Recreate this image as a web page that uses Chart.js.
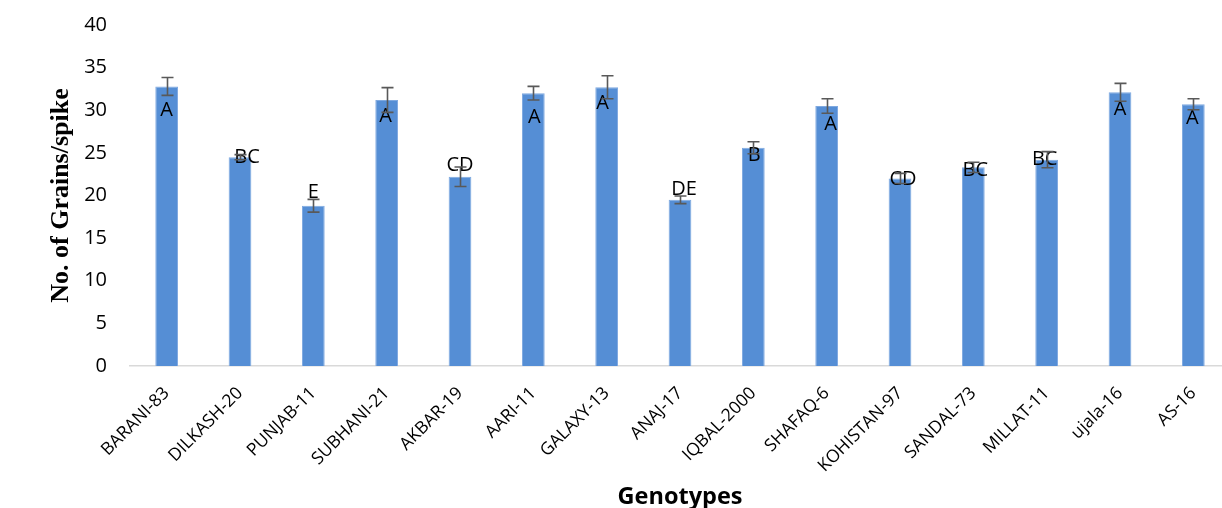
<!DOCTYPE html>
<html>
<head>
<meta charset="utf-8">
<script src="https://cdn.jsdelivr.net/npm/chart.js@4.4.1/dist/chart.umd.min.js"></script>
<style>
  html, body { margin: 0; padding: 0; background: #fff; overflow: hidden; }
  #wrap { width: 1232px; height: 508px; }
</style>
</head>
<body>
<div id="wrap"><canvas id="c" width="1232" height="508"></canvas></div>
<script>
// Genotypes and mean grains per spike
const genotypes = ['BARANI-83', 'DILKASH-20', 'PUNJAB-11', 'SUBHANI-21', 'AKBAR-19', 'AARI-11',
  'GALAXY-13', 'ANAJ-17', 'IQBAL-2000', 'SHAFAQ-6', 'KOHISTAN-97', 'SANDAL-73', 'MILLAT-11',
  'ujala-16', 'AS-16'];
const grainsPerSpike = [32.8, 24.5, 18.8, 31.2, 22.2, 32.0, 32.7, 19.5, 25.6, 30.5, 22.0, 23.3, 24.2, 32.1, 30.7];
// Standard error for each genotype
const stdError = [1.05, 0.3, 0.75, 1.45, 1.15, 0.8, 1.35, 0.45, 0.7, 0.85, 0.6, 0.6, 0.95, 1.05, 0.65];
// Significance groups (LSD letters)
const groupLetters = ['A', 'BC', 'E', 'A', 'CD', 'A', 'A', 'DE', 'B', 'A', 'CD', 'BC', 'BC', 'A', 'A'];
// Y axis ticks
const yMin = 0, yMax = 40, yStep = 5;

// Pixel nudges for the letter labels, relative to the bar top
const letterNudge = [[0, 24], [7, 0], [0, -13], [-1, 16], [0, -11], [1, 24], [-4, 16], [4, -10],
  [1, 8], [4, 18], [3, 1], [2, 3], [-2, 0], [0, 17], [-1, 14]];

const sans = '"Open Sans", "Noto Sans", sans-serif';

const letterPlugin = {
  id: 'letters',
  afterDatasetsDraw(chart) {
    const ctx = chart.ctx;
    const meta = chart.getDatasetMeta(0);
    const y = chart.scales.y;
    ctx.save();
    ctx.font = '20px ' + sans;
    ctx.fillStyle = '#000';
    ctx.textAlign = 'center';
    ctx.textBaseline = 'middle';
    meta.data.forEach((bar, i) => {
      const top = y.getPixelForValue(grainsPerSpike[i]);
      const [dx, dy] = letterNudge[i];
      ctx.fillText(groupLetters[i], bar.x + dx, top + dy);
    });
    ctx.restore();
  }
};

const errorBarPlugin = {
  id: 'errorBars',
  afterDatasetsDraw(chart) {
    const ctx = chart.ctx;
    const meta = chart.getDatasetMeta(0);
    const y = chart.scales.y;
    ctx.save();
    ctx.strokeStyle = '#595959';
    ctx.lineWidth = 1.6;
    meta.data.forEach((bar, i) => {
      const hi = y.getPixelForValue(grainsPerSpike[i] + stdError[i]);
      const lo = y.getPixelForValue(grainsPerSpike[i] - stdError[i]);
      const x = Math.round(bar.x) + 0.5;
      ctx.beginPath();
      ctx.moveTo(x, hi); ctx.lineTo(x, lo);
      ctx.moveTo(x - 6, hi); ctx.lineTo(x + 6, hi);
      ctx.moveTo(x - 6, lo); ctx.lineTo(x + 6, lo);
      ctx.stroke();
    });
    ctx.restore();
  }
};

new Chart(document.getElementById('c'), {
  type: 'bar',
  data: {
    labels: genotypes,
    datasets: [{
      data: grainsPerSpike,
      backgroundColor: '#558ED5',
      borderColor: '#7FA9E0',
      borderWidth: { left: 1, right: 1, top: 1, bottom: 0 },
      barPercentage: 0.62,
      categoryPercentage: 0.5
    }]
  },
  options: {
    responsive: false,
    animation: false,
    devicePixelRatio: 1,
    layout: { padding: { top: 25, right: 2, bottom: 0, left: 0 } },
    plugins: {
      legend: { display: false },
      tooltip: { enabled: false }
    },
    scales: {
      x: {
        grid: { display: false, drawTicks: false },
        border: { display: true, color: '#d9d9d9', width: 1.5 },
        ticks: {
          autoSkip: false,
          minRotation: 45,
          maxRotation: 45,
          padding: 17,
          labelOffset: 0,
          color: '#000',
          font: { family: sans, size: 17.5 }
        },
        title: {
          display: true,
          text: 'Genotypes',
          color: '#000',
          font: { family: sans, size: 23.5, weight: 'bold', lineHeight: '22px' },
          padding: 0
        },
        afterFit(scale) { scale.height = 142; }
      },
      y: {
        min: yMin,
        max: yMax,
        grid: { display: false, drawTicks: true, tickLength: 23, tickColor: 'rgba(0,0,0,0)' },
        border: { display: false },
        ticks: {
          stepSize: yStep,
          padding: 0,
          color: '#000',
          font: { family: sans, size: 20 }
        },
        title: {
          display: true,
          text: 'No. of Grains/spike',
          color: '#000',
          font: { family: '"Liberation Serif", "Times New Roman", serif', size: 26, weight: 'bold' },
          padding: { top: 46, bottom: 0 }
        },
        afterFit(scale) { scale.width = 130; }
      }
    }
  },
  plugins: [letterPlugin, errorBarPlugin]
});
</script>
</body>
</html>
